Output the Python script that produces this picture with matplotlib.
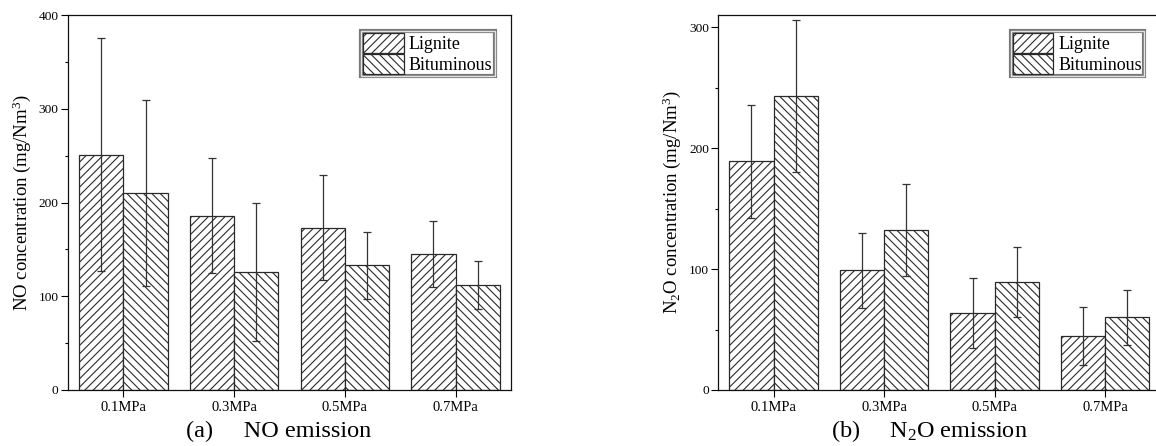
import matplotlib
matplotlib.use("Agg")
import matplotlib.pyplot as plt
import matplotlib.patheffects as pe
from matplotlib.ticker import MultipleLocator
import numpy as np

categories = ['0.1MPa', '0.3MPa', '0.5MPa', '0.7MPa']
series_names = ['Lignite', 'Bituminous']

no_lignite = [251, 186, 173, 145]
no_lignite_err = [124, 61, 56, 35]
no_bitum = [210, 126, 133, 112]
no_bitum_err = [99, 74, 36, 26]

n2o_lignite = [189, 99, 64, 45]
n2o_lignite_err = [47, 31, 29, 24]
n2o_bitum = [243, 132, 89, 60]
n2o_bitum_err = [63, 38, 29, 23]

plt.rcParams['font.family'] = ['Liberation Serif', 'DejaVu Serif']
plt.rcParams['mathtext.fontset'] = 'custom'
plt.rcParams['mathtext.rm'] = 'Liberation Serif'
plt.rcParams['mathtext.it'] = 'Liberation Serif:italic'
plt.rcParams['hatch.linewidth'] = 0.8

W, H = 1156, 446
fig = plt.figure(figsize=(W / 100, H / 100), dpi=100)

def px_axes(x0, x1, y0, y1):
    return [x0 / W, (H - y1) / H, (x1 - x0) / W, (y1 - y0) / H]

ax1 = fig.add_axes(px_axes(68, 511, 15, 390))
ax2 = fig.add_axes(px_axes(718.3, 1160.5, 15, 390))

edge = '#2a2a2a'
ecol = '#333333'

def draw(ax, a, ae, b, be, ylim, ylabel):
    x = np.arange(len(categories))
    w = 0.4
    ax.bar(x - w / 2, a, w, facecolor='white', edgecolor=edge, hatch='////',
           linewidth=0.9, label=series_names[0], zorder=2)
    ax.bar(x + w / 2, b, w, facecolor='white', edgecolor=edge, hatch='\\' * 4,
           linewidth=0.9, label=series_names[1], zorder=2)
    ax.errorbar(x - w / 2, a, yerr=ae, fmt='none', ecolor=ecol, elinewidth=0.9,
                capsize=2.9, capthick=0.9, zorder=3)
    ax.errorbar(x + w / 2, b, yerr=be, fmt='none', ecolor=ecol, elinewidth=0.9,
                capsize=2.9, capthick=0.9, zorder=3)
    ax.set_xlim(-0.5, len(categories) - 0.5)
    ax.set_ylim(*ylim)
    ax.set_xticks(x)
    ax.set_xticklabels(categories, fontsize=10.5)
    ax.yaxis.set_major_locator(MultipleLocator(100))
    ax.yaxis.set_minor_locator(MultipleLocator(50))
    ax.tick_params(axis='y', which='major', direction='out', length=4.8,
                   width=0.8, labelsize=9.6, pad=2)
    ax.tick_params(axis='y', which='minor', direction='out', length=2.4, width=0.8)
    ax.tick_params(axis='x', which='major', direction='out', length=5,
                   width=0.8, pad=3)
    for s in ax.spines.values():
        s.set_linewidth(0.9)
        s.set_color('#111111')
    ax.set_ylabel(ylabel, fontsize=13.5, labelpad=4)
    leg = ax.legend(loc='upper right', fontsize=13, frameon=True,
                    fancybox=False, borderpad=0.12, labelspacing=0.05,
                    handleheight=1.3, handlelength=2.25, handletextpad=0.28,
                    borderaxespad=0.9)
    fr = leg.get_frame()
    fr.set_facecolor('none')
    fr.set_edgecolor('#555555')
    fr.set_linewidth(1.0)
    fr.set_path_effects([pe.Stroke(linewidth=3.0, foreground='#555555'),
                         pe.Stroke(linewidth=1.0, foreground='white')])

draw(ax1, no_lignite, no_lignite_err, no_bitum, no_bitum_err, (0, 400),
     'NO concentration (mg/Nm$^3$)')
draw(ax2, n2o_lignite, n2o_lignite_err, n2o_bitum, n2o_bitum_err, (0, 310),
     'N$_2$O concentration (mg/Nm$^3$)')

fig.text(279 / W, 1 - 431 / H, '(a)     NO emission', fontsize=17.5,
         ha='center', va='center')
fig.text(929 / W, 1 - 431 / H, '(b)     N$_2$O emission', fontsize=17.5,
         ha='center', va='center')

fig.savefig('out.png', dpi=100)
